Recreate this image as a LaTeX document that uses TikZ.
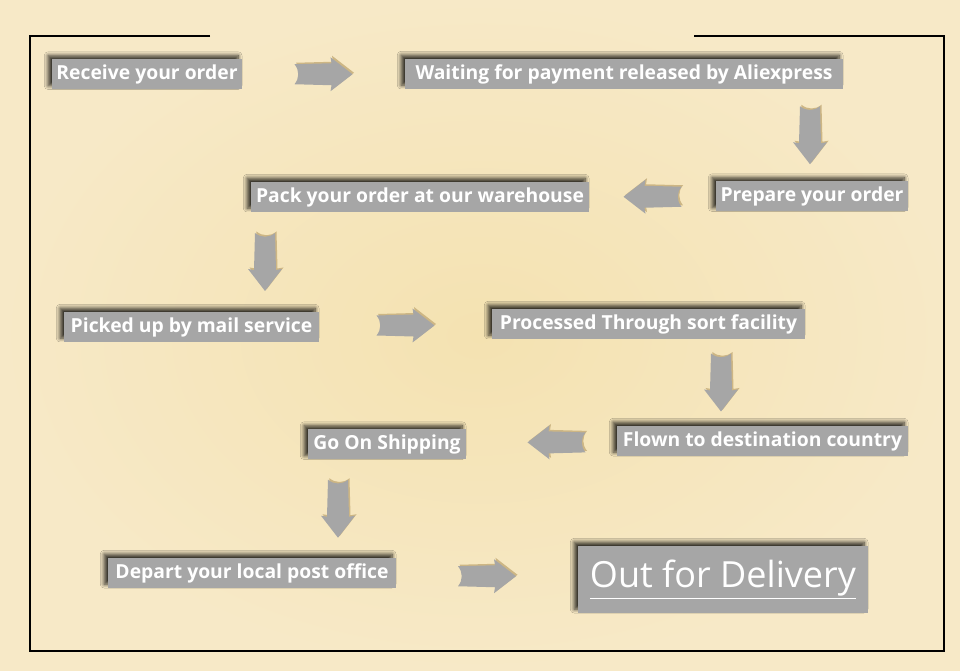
\documentclass[tikz,border=0pt]{standalone}
\usepackage{fontspec}
\setmainfont{Open Sans}
\usetikzlibrary{calc,shadows.blur}

\definecolor{bgin}{HTML}{F4E2B1}
\definecolor{bgout}{HTML}{F7E9C7}
\definecolor{boxgray}{HTML}{A6A6A6}
\definecolor{arrowtan}{HTML}{CDB684}
\newcommand\px{0.02cm}

\tikzset{
  stepbox/.style={fill=boxgray, text=white, inner sep=0pt, minimum height=30*\px,
    font=\fontsize{11}{13}\selectfont\bfseries,
    blur shadow={shadow xshift=-2.2pt, shadow yshift=2.2pt, shadow blur radius=2.2pt,
      shadow blur steps=10, shadow opacity=80}},
  blockarr/.pic={
    \fill[arrowtan, shift={(1.5,-1.5)}, rotate=#1] (-29,10) -- (8,11) -- (7,17) -- (29,0) -- (7,-17) -- (8,-11)
      -- (-29,-10) .. controls (-24,-4) and (-24,4) .. (-29,10) -- cycle;
    \fill[boxgray, rotate=#1] (-29,10) -- (8,11) -- (7,17) -- (29,0) -- (7,-17) -- (8,-11)
      -- (-29,-10) .. controls (-24,-4) and (-24,4) .. (-29,10) -- cycle;
  }
}

\begin{document}
\begin{tikzpicture}[x=0.02cm, y=-0.02cm]
  \useasboundingbox (0,0) rectangle (960,671);
  \shade[inner color=bgin, outer color=bgout] (0,0) rectangle (960,671);
  % frame, open at the top middle
  \draw[line width=0.7pt] (210,36) -| (30,651) -| (944,36) -- (694,36);

  \node[stepbox, minimum width=190*\px] (rcv) at (147,74.5) {Receive your order};
  \node[stepbox, minimum width=438*\px] (wait) at (624,74) {Waiting for payment released by Aliexpress};
  \node[stepbox, minimum width=192*\px] (prep) at (812,196.5) {Prepare your order};
  \node[stepbox, minimum width=338*\px] (pack) at (420,197) {Pack your order at our warehouse};
  \node[stepbox, minimum width=255*\px] (pick) at (191.5,327) {Picked up by mail service};
  \node[stepbox, minimum width=313*\px] (proc) at (648.5,324) {Processed Through sort facility};
  \node[stepbox, minimum width=291*\px] (flown) at (762.5,441) {Flown to destination country};
  \node[stepbox, minimum width=158*\px] (go) at (387,444.5) {Go On Shipping};
  \node[stepbox, minimum width=288*\px] (depart) at (252,573) {Depart your local post office};
  \node[stepbox, minimum width=290*\px, minimum height=67*\px, font=\fontsize{20.5}{24}\selectfont]
    (out) at (723,579.5) {\underline{Out for Delivery}};

  % columns of the downward arrows
  \coordinate (col2) at (810,0);
  \coordinate (col4) at (265,0);
  \coordinate (col6) at (721,0);
  \coordinate (col8) at (338,0);
  \coordinate (m2) at ($(wait.south)!.5!(prep.north)$);
  \coordinate (m4) at ($(pack.south)!.5!(pick.north)$);
  \coordinate (m6) at ($(proc.south)!.5!(flown.north)$);
  \coordinate (m8) at ($(go.south)!.5!(depart.north)$);

  \pic at ($(rcv.east)!.5!(wait.west)$) {blockarr=0};
  \pic at (m2 -| col2) {blockarr=-90};
  \pic at ($(prep.west)!.5!(pack.east)$) {blockarr=180};
  \pic at (m4 -| col4) {blockarr=-90};
  \pic at ($(pick.east)!.5!(proc.west)$) {blockarr=0};
  \pic at (m6 -| col6) {blockarr=-90};
  \pic at ($(flown.west)!.4!(go.east)$) {blockarr=180};
  \pic at (m8 -| col8) {blockarr=-90};
  \pic at ($(depart.east)!.5!(out.west)$) {blockarr=0};
\end{tikzpicture}
\end{document}
